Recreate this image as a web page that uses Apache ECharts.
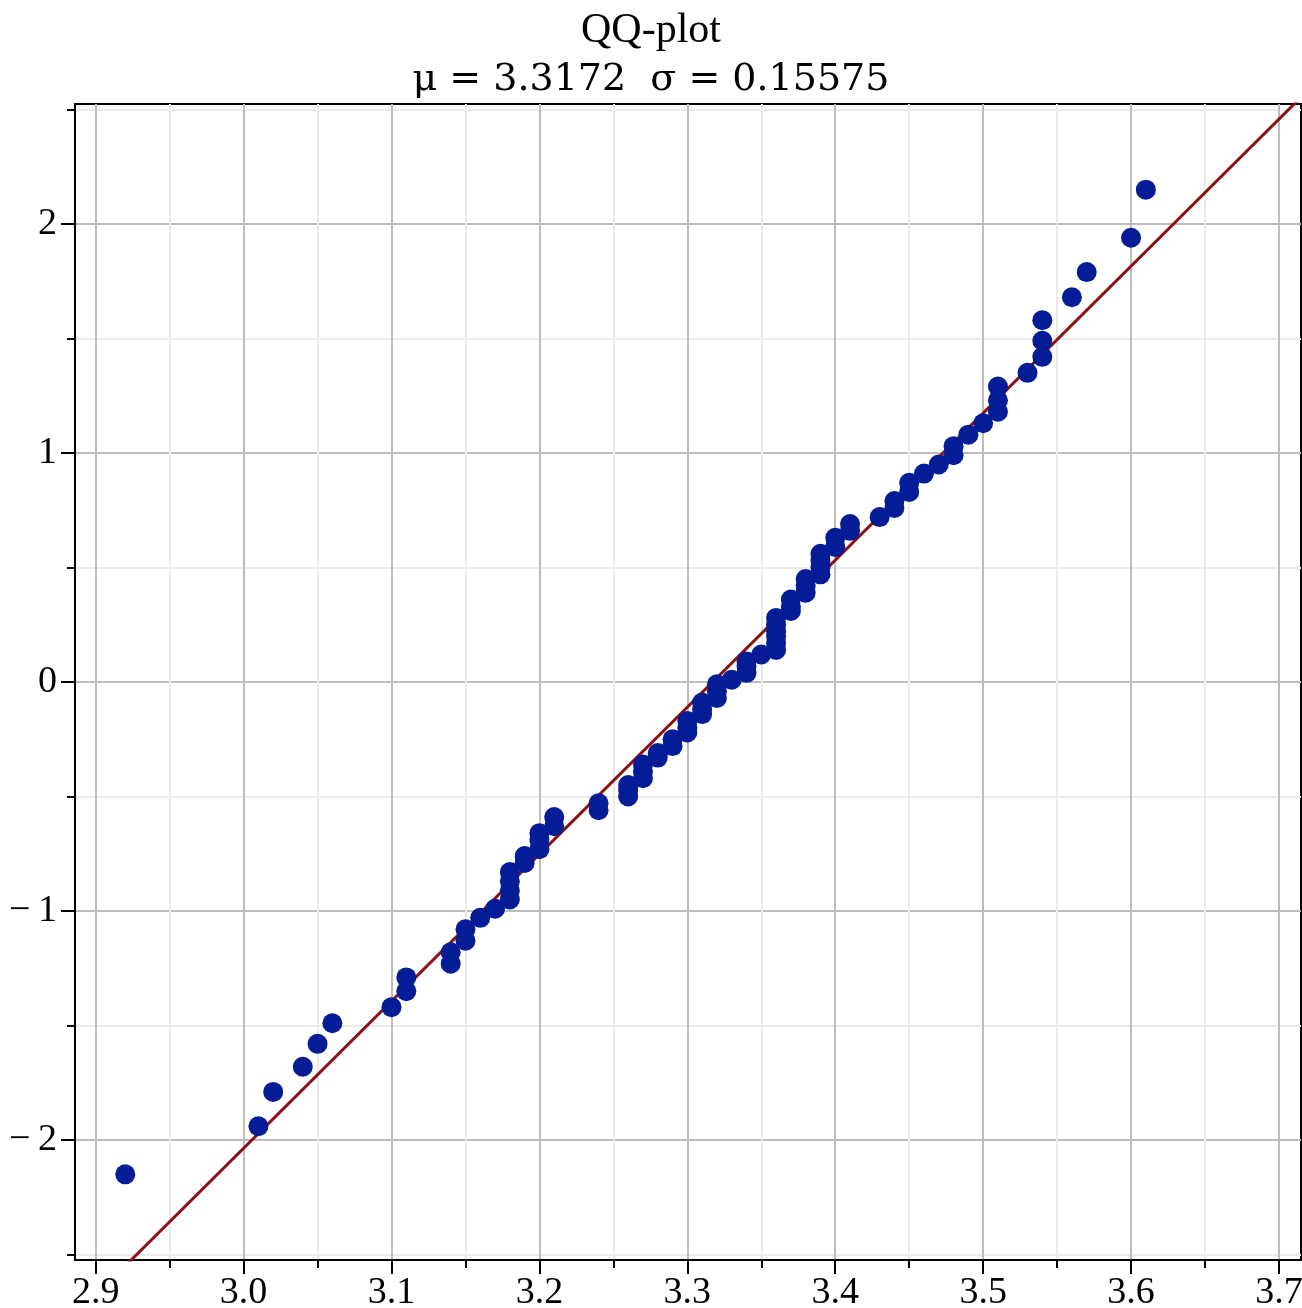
<!DOCTYPE html>
<html>
<head>
<meta charset="utf-8">
<script src="https://cdn.jsdelivr.net/npm/echarts@6/dist/echarts.min.js"></script>
<style>
html,body{margin:0;padding:0;background:#fff;}
#chart{width:1302px;height:1308px;}
</style>
</head>
<body>
<div id="chart"></div>
<script>
// Sorted sample values (x) and theoretical normal quantiles (y)
const sampleX = [
  2.92, 3.01, 3.02, 3.04, 3.05, 3.06, 3.10, 3.11, 3.11, 3.14,
  3.14, 3.15, 3.15, 3.16, 3.17, 3.18, 3.18, 3.18, 3.18, 3.19,
  3.19, 3.20, 3.20, 3.20, 3.21, 3.21, 3.24, 3.24, 3.26, 3.26,
  3.26, 3.27, 3.27, 3.27, 3.28, 3.28, 3.29, 3.29, 3.30, 3.30,
  3.30, 3.31, 3.31, 3.31, 3.32, 3.32, 3.32, 3.33, 3.34, 3.34,
  3.34, 3.35, 3.36, 3.36, 3.36, 3.36, 3.36, 3.36, 3.37, 3.37,
  3.37, 3.38, 3.38, 3.38, 3.39, 3.39, 3.39, 3.39, 3.40, 3.40,
  3.41, 3.41, 3.43, 3.44, 3.44, 3.45, 3.45, 3.46, 3.47, 3.48,
  3.48, 3.49, 3.50, 3.51, 3.51, 3.51, 3.53, 3.54, 3.54, 3.54,
  3.56, 3.57, 3.60, 3.61
];
const quantileY = [
  -2.15, -1.94, -1.79, -1.68, -1.58, -1.49, -1.42, -1.35, -1.29, -1.23,
  -1.18, -1.13, -1.08, -1.03, -0.99, -0.95, -0.91, -0.87, -0.83, -0.79,
  -0.76, -0.73, -0.69, -0.66, -0.63, -0.59, -0.56, -0.53, -0.50, -0.47,
  -0.45, -0.42, -0.39, -0.36, -0.33, -0.31, -0.28, -0.25, -0.22, -0.20,
  -0.17, -0.14, -0.12, -0.09, -0.07, -0.04, -0.01, 0.01, 0.04, 0.07,
  0.09, 0.12, 0.14, 0.17, 0.20, 0.22, 0.25, 0.28, 0.31, 0.33,
  0.36, 0.39, 0.42, 0.45, 0.47, 0.50, 0.53, 0.56, 0.59, 0.63,
  0.66, 0.69, 0.72, 0.76, 0.79, 0.83, 0.87, 0.91, 0.95, 0.99,
  1.03, 1.08, 1.13, 1.18, 1.23, 1.29, 1.35, 1.42, 1.49, 1.58,
  1.68, 1.79, 1.94, 2.15
];
// Reference line endpoints (fitted normal line)
const refLineX = [2.85, 3.75];
const refLineY = [-2.999, 2.779];

// Tick values
const xTicks = [2.9, 3.0, 3.1, 3.2, 3.3, 3.4, 3.5, 3.6, 3.7];
const yTicks = [-2, -1, 0, 1, 2];

const titleText = 'QQ-plot';
const subTitleText = 'μ = 3.3172  σ = 0.15575';

const xRange = [2.886, 3.7149];
const yRange = [-2.524, 2.524];

const points = sampleX.map((x, i) => [x, quantileY[i]]);
const linePts = refLineX.map((x, i) => [x, refLineY[i]]);

const serif = '"Liberation Serif", "Times New Roman", serif';
const chart = echarts.init(document.getElementById('chart'), null, {renderer: 'canvas'});

function axisCommon(ticks) {
  return {
    axisLine: {show: true, onZero: false, lineStyle: {color: '#000', width: 2}},
    axisTick: {show: true, inside: false, length: 14, customValues: ticks, lineStyle: {color: '#000', width: 2}},
    minorTick: {show: true, splitNumber: 2, length: 8, lineStyle: {color: '#000', width: 2}},
    splitLine: {show: true, lineStyle: {color: '#bdbdbd', width: 2}},
    minorSplitLine: {show: true, lineStyle: {color: '#ebebeb', width: 2}}
  };
}

chart.setOption({
  backgroundColor: '#fff',
  animation: false,
  title: [
    {text: titleText, left: 'center', top: 5,
     textStyle: {fontFamily: serif, fontSize: 42, fontWeight: 'normal', color: '#000'}},
    {text: subTitleText, left: 'center', top: 56,
     textStyle: {fontFamily: '"DejaVu Serif", serif', fontSize: 38, fontWeight: 'normal', color: '#000'}}
  ],
  grid: {left: 75, top: 104, width: 1226, height: 1156, containLabel: false, outerBoundsMode: 'none',
         show: true, borderColor: '#000', borderWidth: 2, backgroundColor: 'transparent'},
  xAxis: Object.assign({
    type: 'value', min: xRange[0], max: xRange[1], minInterval: 0.1, maxInterval: 0.1, splitNumber: 8,
    axisLabel: {show: true, customValues: xTicks, margin: 14, hideOverlap: false,
      fontFamily: serif, fontSize: 38, color: '#000',
      formatter: v => v.toFixed(1)}
  }, axisCommon(xTicks)),
  yAxis: Object.assign({
    type: 'value', min: yRange[0], max: yRange[1], minInterval: 1, maxInterval: 1, splitNumber: 5,
    axisLabel: {show: true, customValues: yTicks, margin: 18,
      fontFamily: serif, fontSize: 38, color: '#000',
      formatter: v => v < 0 ? '\u2212\u2009' + Math.abs(v) : String(v)}
  }, axisCommon(yTicks)),
  series: [
    {type: 'line', data: linePts, showSymbol: false, symbol: 'none', clip: true, z: 2,
     lineStyle: {color: '#8b1212', width: 3}},
    {type: 'scatter', data: points, symbol: 'circle', symbolSize: 20, clip: true, z: 3,
     itemStyle: {color: '#041c96', opacity: 1}}
  ]
});
</script>
</body>
</html>
